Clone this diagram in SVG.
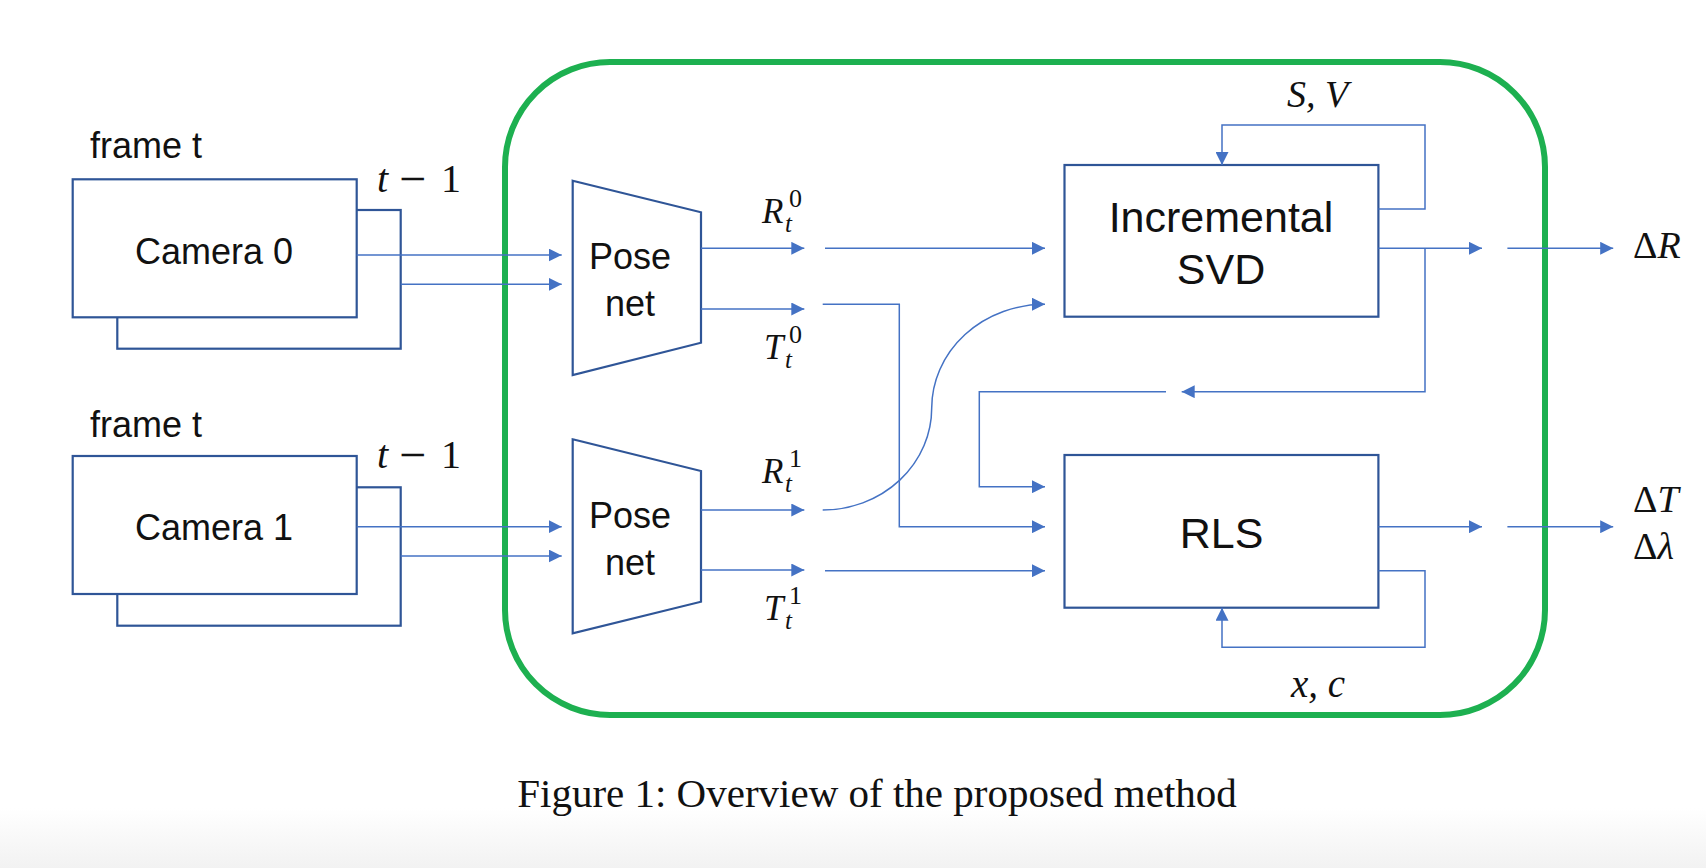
<svg xmlns="http://www.w3.org/2000/svg" width="1706" height="868" viewBox="0 0 1706 868">
<defs>
<marker id="ah" markerUnits="userSpaceOnUse" markerWidth="14" markerHeight="13" refX="13" refY="6.5" orient="auto">
<path d="M0,0 L13,6.5 L0,13 z" fill="#4472C4"/>
</marker>
<linearGradient id="bg" x1="0" y1="0" x2="0" y2="1">
<stop offset="0" stop-color="#ffffff"/>
<stop offset="1" stop-color="#f2f2f2"/>
</linearGradient>
<style>
.box{fill:#fff;stroke:#2F5597;stroke-width:2.2}
.a{fill:none;stroke:#4472C4;stroke-width:1.5;marker-end:url(#ah)}
.sans{font-family:"Liberation Sans",Arial,sans-serif;fill:#111}
.math{font-family:"Liberation Serif","Times New Roman",serif;fill:#111}
.it{font-style:italic}
.up{font-style:normal}
.sm{font-size:25px}
.ss{font-size:26px}
</style>
</defs>
<rect x="0" y="0" width="1706" height="868" fill="#fff"/>
<rect x="0" y="808" width="1706" height="60" fill="url(#bg)"/>

<g id="container">
<rect x="505" y="62" width="1040" height="653" rx="105" ry="105" fill="none" stroke="#1DB050" stroke-width="6"/>
</g>

<g id="camera0">
<rect class="box" x="117.3" y="210" width="283.4" height="138.7"/>
<rect class="box" x="72.7" y="179.3" width="284" height="138"/>
<text class="sans" x="90" y="158" font-size="36">frame t</text>
<text class="sans" x="214" y="264" font-size="36" text-anchor="middle">Camera 0</text>
<text class="math" font-size="40"><tspan class="it" x="377" y="191.7">t</tspan><tspan x="399" y="194.7" font-size="48">−</tspan><tspan x="441" y="191.7">1</tspan></text>
</g>

<g id="camera1">
<rect class="box" x="117.3" y="487.3" width="283.4" height="138.4"/>
<rect class="box" x="72.7" y="456" width="284" height="138"/>
<text class="sans" x="90" y="437.3" font-size="36">frame t</text>
<text class="sans" x="214" y="540" font-size="36" text-anchor="middle">Camera 1</text>
<text class="math" font-size="40"><tspan class="it" x="377" y="468.3">t</tspan><tspan x="399" y="471.3" font-size="48">−</tspan><tspan x="441" y="468.3">1</tspan></text>
</g>

<g id="posenet0">
<polygon class="box" points="572.7,180.7 701,212.3 701,342.7 572.7,375"/>
<text class="sans" x="630" y="269.3" font-size="36" text-anchor="middle">Pose</text>
<text class="sans" x="630" y="316" font-size="36" text-anchor="middle">net</text>
</g>

<g id="posenet1">
<polygon class="box" points="572.7,439.3 701,471 701,601.7 572.7,633.3"/>
<text class="sans" x="630" y="528.3" font-size="36" text-anchor="middle">Pose</text>
<text class="sans" x="630" y="575" font-size="36" text-anchor="middle">net</text>
</g>

<g id="svd">
<rect class="box" x="1064.5" y="165" width="313.9" height="151.7"/>
<text class="sans" x="1221" y="231.7" font-size="43" text-anchor="middle">Incremental</text>
<text class="sans" x="1221" y="284" font-size="43" text-anchor="middle">SVD</text>
</g>

<g id="rls">
<rect class="box" x="1064.5" y="455" width="313.9" height="152.7"/>
<text class="sans" x="1221.5" y="548.3" font-size="43" text-anchor="middle">RLS</text>
</g>

<g id="labels">
<text class="math it" font-size="35"><tspan x="762" y="223.3">R</tspan><tspan class="sm" x="785" y="232">t</tspan><tspan class="ss up" x="789" y="207">0</tspan></text>
<text class="math it" font-size="35"><tspan x="764" y="359.3">T</tspan><tspan class="sm" x="785" y="368">t</tspan><tspan class="ss up" x="789" y="343">0</tspan></text>
<text class="math it" font-size="35"><tspan x="762" y="483.3">R</tspan><tspan class="sm" x="785" y="492">t</tspan><tspan class="ss up" x="789" y="467">1</tspan></text>
<text class="math it" font-size="35"><tspan x="764" y="620">T</tspan><tspan class="sm" x="785" y="628.7">t</tspan><tspan class="ss up" x="789" y="603.7">1</tspan></text>
<text class="math it" x="1287" y="106.7" font-size="38">S, V</text>
<text class="math it" x="1291" y="696.7" font-size="39">x, c</text>
<text class="math" x="1633" y="258" font-size="38">Δ<tspan class="it">R</tspan></text>
<text class="math" x="1633" y="511.7" font-size="38">Δ<tspan class="it">T</tspan></text>
<text class="math" x="1633" y="559.3" font-size="38">Δ<tspan class="it">λ</tspan></text>
</g>

<g id="connectors">
<line class="a" x1="356.7" y1="255" x2="561.7" y2="255"/>
<line class="a" x1="400.7" y1="284.3" x2="561.7" y2="284.3"/>
<line class="a" x1="356.7" y1="526.7" x2="561.7" y2="526.7"/>
<line class="a" x1="400.7" y1="556" x2="561.7" y2="556"/>
<line class="a" x1="701" y1="248.3" x2="804.3" y2="248.3"/>
<line class="a" x1="701" y1="309" x2="804.3" y2="309"/>
<line class="a" x1="701" y1="510" x2="804.3" y2="510"/>
<line class="a" x1="701" y1="570" x2="804.3" y2="570"/>
<line class="a" x1="825" y1="248.3" x2="1045" y2="248.3"/>
<polyline class="a" points="822.7,304.3 899.3,304.3 899.3,526.7 1045,526.7"/>
<path class="a" d="M822.7,510 A109,102 0 0 0 931.7,408 A113,104 0 0 1 1045,304.3"/>
<line class="a" x1="825" y1="570.7" x2="1045" y2="570.7"/>
<line class="a" x1="1378.4" y1="248.3" x2="1482" y2="248.3"/>
<line class="a" x1="1507.4" y1="248.3" x2="1613.2" y2="248.3"/>
<polyline class="a" points="1378.4,209 1425,209 1425,125 1222,125 1222,165"/>
<polyline class="a" points="1425,248.3 1425,391.7 1181.7,391.7"/>
<polyline class="a" points="1166,391.7 979.3,391.7 979.3,486.7 1045,486.7"/>
<line class="a" x1="1378.4" y1="526.7" x2="1482" y2="526.7"/>
<line class="a" x1="1507.4" y1="526.7" x2="1613.2" y2="526.7"/>
<polyline class="a" points="1378.4,570.7 1425,570.7 1425,647.3 1222,647.3 1222,607.7"/>
</g>

<text class="math" x="877" y="806.7" font-size="41" text-anchor="middle">Figure 1: Overview of the proposed method</text>
</svg>
